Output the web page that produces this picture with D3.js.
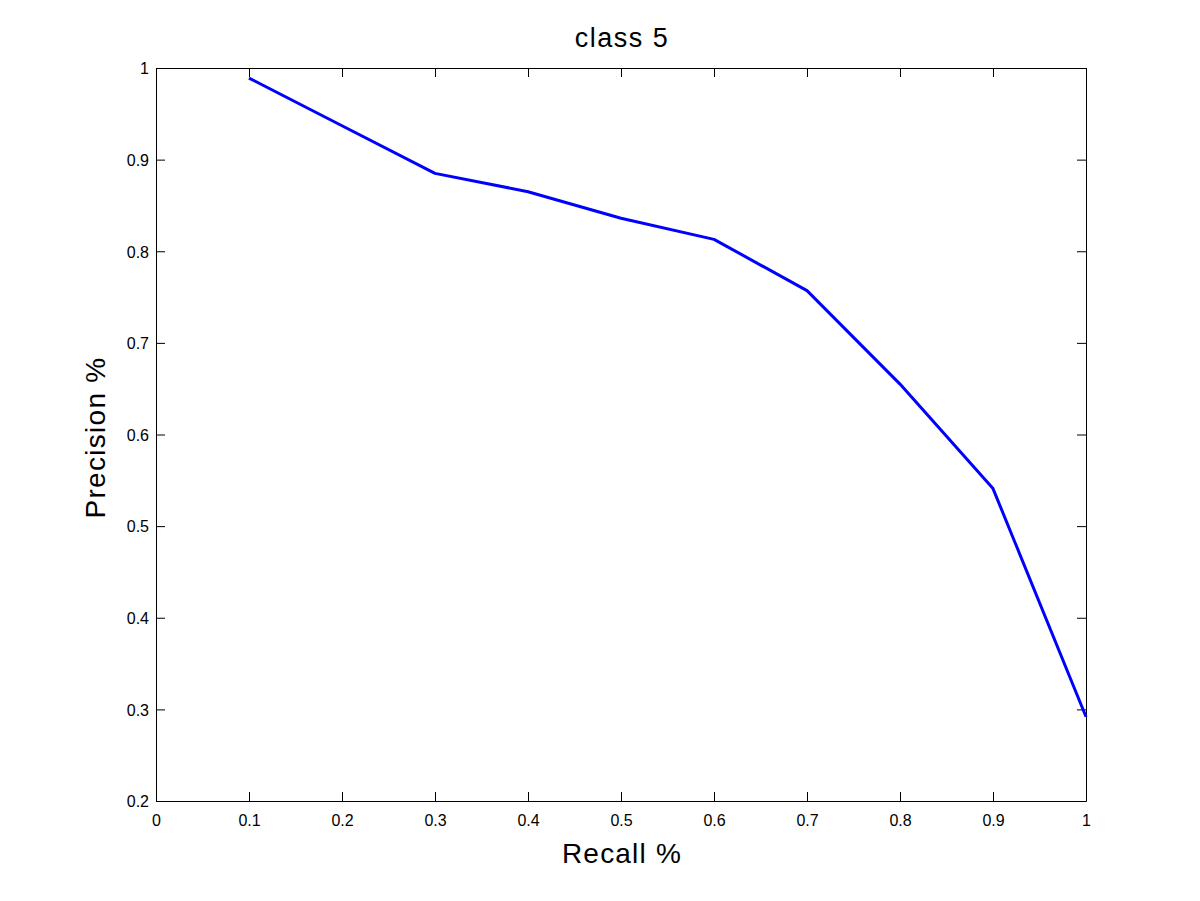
<!DOCTYPE html>
<html>
<head>
<meta charset="utf-8">
<script src="https://cdn.jsdelivr.net/npm/d3@7"></script>
<style>
  html, body { margin: 0; padding: 0; background: #fff; }
  svg { display: block; }
  text { font-family: "Liberation Sans", Arial, Helvetica, sans-serif; fill: #000; }
</style>
</head>
<body>
<script>
const recall = [0.1, 0.2, 0.3, 0.4, 0.5, 0.6, 0.7, 0.8, 0.9, 1.0];
const precision = [0.989, 0.937, 0.885, 0.865, 0.836, 0.813, 0.757, 0.655, 0.541, 0.292];
const xTicks = [0, 0.1, 0.2, 0.3, 0.4, 0.5, 0.6, 0.7, 0.8, 0.9, 1];
const yTicks = [0.2, 0.3, 0.4, 0.5, 0.6, 0.7, 0.8, 0.9, 1];
const titleText = "class 5";
const xLabel = "Recall %";
const yLabel = "Precision %";

const W = 1200, H = 901;
const m = { left: 156, right: 1086, top: 68, bottom: 801 };

const svg = d3.select("body").append("svg").attr("width", W).attr("height", H);
svg.append("rect").attr("width", W).attr("height", H).attr("fill", "#fff");

const x = d3.scaleLinear().domain([0, 1]).range([m.left, m.right]);
const y = d3.scaleLinear().domain([0.2, 1]).range([m.bottom, m.top]);

const fmt = d => (d === 0 || d === 1) ? String(d) : d3.format(".1f")(d);
const tl = 9;

const gx = svg.append("g").attr("transform", `translate(0,${m.bottom})`)
  .call(d3.axisBottom(x).tickValues(xTicks).tickFormat(fmt).tickSizeInner(-tl).tickSizeOuter(0).tickPadding(14));
const gxt = svg.append("g").attr("transform", `translate(0,${m.top})`)
  .call(d3.axisTop(x).tickValues(xTicks).tickFormat("").tickSizeInner(-tl).tickSizeOuter(0));
const gy = svg.append("g").attr("transform", `translate(${m.left},0)`)
  .call(d3.axisLeft(y).tickValues(yTicks).tickFormat(fmt).tickSizeInner(-tl).tickSizeOuter(0).tickPadding(7));
const gyr = svg.append("g").attr("transform", `translate(${m.right},0)`)
  .call(d3.axisRight(y).tickValues(yTicks).tickFormat("").tickSizeInner(-tl).tickSizeOuter(0));

[gx, gxt, gy, gyr].forEach(g => {
  g.attr("font-size", 16).attr("font-family", "'Liberation Sans', Arial, sans-serif");
  g.selectAll(".domain").attr("stroke", "#000").attr("stroke-width", 1);
  g.selectAll(".tick line").attr("stroke", "#000").attr("stroke-width", 1);
  g.selectAll(".tick text").attr("fill", "#000");
});
gy.selectAll(".tick text").attr("dy", "0.36em");

const line = d3.line().x((d, i) => x(recall[i])).y(d => y(d));
svg.append("path").datum(precision)
  .attr("d", line)
  .attr("fill", "none")
  .attr("stroke", "#0000ff")
  .attr("stroke-width", 3)
  .attr("stroke-linejoin", "round");

svg.append("text").attr("x", (m.left + m.right) / 2 + 1).attr("y", 47)
  .attr("text-anchor", "middle").attr("font-size", 27).attr("letter-spacing", 1.5).text(titleText);
svg.append("text").attr("x", (m.left + m.right) / 2 + 1).attr("y", 863)
  .attr("text-anchor", "middle").attr("font-size", 28).attr("letter-spacing", 1.2).text(xLabel);
svg.append("text").attr("transform", `translate(105,${(m.top + m.bottom) / 2 + 3}) rotate(-90)`)
  .attr("text-anchor", "middle").attr("font-size", 28).attr("letter-spacing", 1.3).text(yLabel);
</script>
</body>
</html>
